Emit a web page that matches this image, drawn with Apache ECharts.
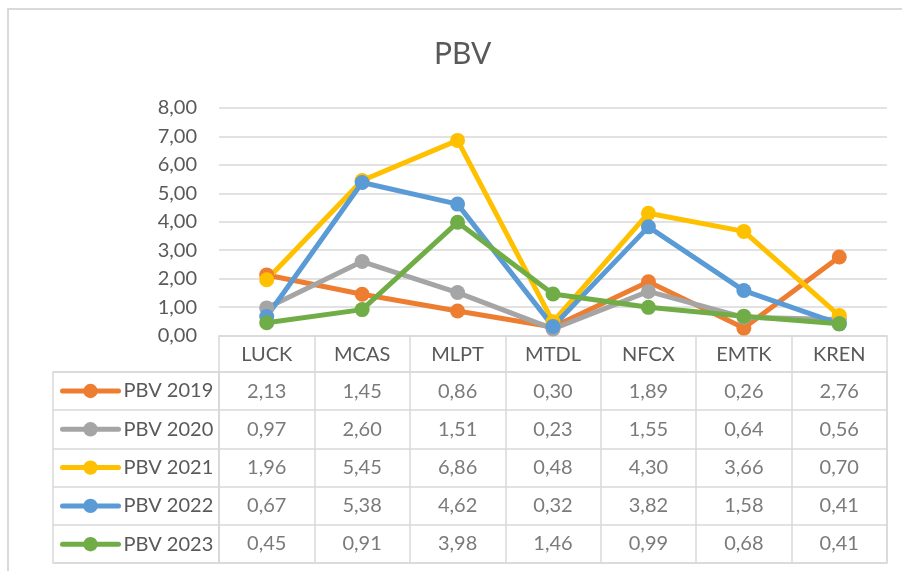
<!DOCTYPE html>
<html><head><meta charset="utf-8">
<script src="https://cdn.jsdelivr.net/npm/echarts@6/dist/echarts.min.js"></script>
<style>html,body{margin:0;padding:0;background:#fff}#c{width:902px;height:571px}</style>
</head><body><div id="c"></div>
<script>
const categories = ['LUCK','MCAS','MLPT','MTDL','NFCX','EMTK','KREN'];
const seriesNames = ['PBV 2019','PBV 2020','PBV 2021','PBV 2022','PBV 2023'];
const pbv2019 = [2.13,1.45,0.86,0.30,1.89,0.26,2.76];
const pbv2020 = [0.97,2.60,1.51,0.23,1.55,0.64,0.56];
const pbv2021 = [1.96,5.45,6.86,0.48,4.30,3.66,0.70];
const pbv2022 = [0.67,5.38,4.62,0.32,3.82,1.58,0.41];
const pbv2023 = [0.45,0.91,3.98,1.46,0.99,0.68,0.41];
const allValues = [pbv2019,pbv2020,pbv2021,pbv2022,pbv2023];
const colors = ['#ED7D31','#A5A5A5','#FFC000','#5B9BD5','#70AD47'];
const yMin = 0, yMax = 8, yStep = 1;

const FONT = 'Lato';
const TXT = '#595959';
const GRIDC = '#d9d9d9';
const fmt = v => v.toFixed(2).replace('.', ',');

const lineSeries = seriesNames.map((n, k) => ({
  name: n, type: 'line', xAxisIndex: 0, yAxisIndex: 0,
  data: allValues[k], symbol: 'circle', symbolSize: 15,
  lineStyle: {width: 5, color: colors[k]}, itemStyle: {color: colors[k]},
  emphasis: {disabled: true}, silent: true
}));

const cells = [];
allValues.forEach((arr, s) => arr.forEach((v, i) => cells.push([i, s, v])));

const tableSeries = {
  type: 'scatter', xAxisIndex: 1, yAxisIndex: 1, data: cells,
  symbolSize: 1, itemStyle: {color: 'rgba(0,0,0,0)'}, silent: true,
  label: {show: true, position: 'inside', formatter: p => fmt(p.value[2]),
    fontSize: 20, color: TXT, fontFamily: FONT}
};

const chart = echarts.init(document.getElementById('c'), null, {renderer: 'canvas'});
chart.setOption({
  animation: false,
  backgroundColor: '#fff',
  color: colors,
  title: {text: 'PBV', left: 434, top: 39, padding: 0,
    textStyle: {fontFamily: FONT, fontSize: 30, fontWeight: 'normal', color: TXT}},
  legend: {data: seriesNames, orient: 'vertical', left: 60, top: 381, padding: 0,
    itemWidth: 56, itemHeight: 18, itemGap: 18.3, selectedMode: false,
    lineStyle: {width: 5, cap: 'round'},
    textStyle: {fontFamily: FONT, fontSize: 20, color: TXT}},
  grid: [
    {left: 219, right: 15, top: 108, bottom: 235.5},
    {left: 219, right: 15, top: 372, bottom: 8, show: true, borderColor: GRIDC, borderWidth: 1.5},
    {left: 53, width: 166, top: 372, bottom: 8, show: true, borderColor: GRIDC, borderWidth: 1.5}
  ],
  xAxis: [
    {type: 'category', gridIndex: 0, data: categories, boundaryGap: true,
      axisLine: {show: true, lineStyle: {color: GRIDC, width: 1.5}},
      axisTick: {show: true, length: 37, interval: 0, lineStyle: {color: GRIDC, width: 1.5}},
      axisLabel: {interval: 0, margin: 9, fontSize: 20, color: TXT, fontFamily: FONT},
      splitLine: {show: false}},
    {type: 'category', gridIndex: 1, data: categories, boundaryGap: true,
      axisLine: {show: false}, axisTick: {show: false}, axisLabel: {show: false},
      splitLine: {show: true, interval: 0, lineStyle: {color: GRIDC, width: 1.5}}},
    {type: 'value', gridIndex: 2, show: false}
  ],
  yAxis: [
    {type: 'value', gridIndex: 0, min: yMin, max: yMax, interval: yStep,
      axisLine: {show: false}, axisTick: {show: false},
      axisLabel: {formatter: v => fmt(v), margin: 22, fontSize: 20, color: TXT, fontFamily: FONT},
      splitLine: {show: true, lineStyle: {color: GRIDC, width: 1.5}}},
    {type: 'category', gridIndex: 1, data: seriesNames, inverse: true, boundaryGap: true,
      axisLine: {show: false}, axisTick: {show: false}, axisLabel: {show: false},
      splitLine: {show: true, interval: 0, lineStyle: {color: GRIDC, width: 1.5}}},
    {type: 'category', gridIndex: 2, data: seriesNames, inverse: true, boundaryGap: true,
      axisLine: {show: false}, axisTick: {show: false}, axisLabel: {show: false},
      splitLine: {show: true, interval: 0, lineStyle: {color: GRIDC, width: 1.5}}}
  ],
  graphic: [{type: 'rect', silent: true, z: -1,
    shape: {x: 8, y: 9, width: 900, height: 570},
    style: {fill: 'none', stroke: GRIDC, lineWidth: 2}}],
  series: lineSeries.concat([tableSeries])
});
</script>
</body></html>
